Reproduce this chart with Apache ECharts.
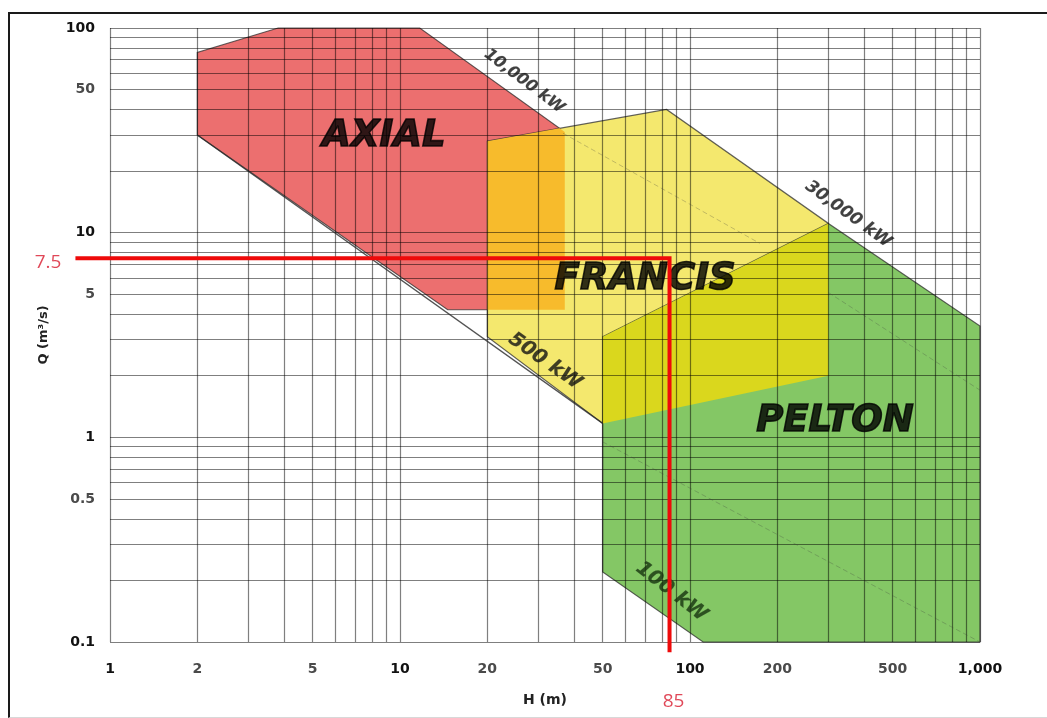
<!DOCTYPE html>
<html>
<head>
<meta charset="utf-8">
<script src="https://cdn.jsdelivr.net/npm/echarts@6/dist/echarts.min.js"></script>
<style>
html,body{margin:0;padding:0;background:#fff;}
#chart{position:absolute;left:0;top:0;width:1047px;height:718px;}
#frame{position:absolute;left:8px;top:12px;width:1100px;height:703px;border-top:2px solid #1a1a1a;border-left:2px solid #1a1a1a;border-bottom:1px solid #d8d8d8;pointer-events:none;}
</style>
</head>
<body>
<div id="chart"></div>
<div id="frame"></div>
<script>
// ---------- axis grid / tick values ----------
const hGridValues = [1,2,3,4,5,6,7,8,9,10,20,30,40,50,60,70,80,90,100,200,300,400,500,600,700,800,900,1000];
const qGridValues = [0.1,0.2,0.3,0.4,0.5,0.6,0.7,0.8,0.9,1,2,3,4,5,6,7,8,9,10,20,30,40,50,60,70,80,90,100];
const hTickLabels = [1,2,5,10,20,50,100,200,500,1000];
const qTickLabels = [0.1,0.5,1,5,10,50,100];

// ---------- turbine application ranges: [H (m), Q (m3/s)] vertices ----------
const axialRegion   = [[2,30],[14.6,4.2],[37,4.2],[37,31],[11.7,100],[3.8,100],[2,76]];
const francisRegion = [[20,28],[83,40],[300,11.1],[300,2],[50,1.17],[20,3.1]];
const peltonRegion  = [[50,3.1],[300,11.1],[1000,3.5],[1000,0.1],[111,0.1],[50,0.22]];
const axialFrancisOverlap   = [[20,28],[35.5,32.4],[37,31],[37,4.2],[20,4.2]];
const francisPeltonOverlap  = [[50,3.1],[300,11.1],[300,2],[50,1.17]];

// region names and label anchor points
const regionNames = ['AXIAL','FRANCIS','PELTON'];
const regionNameH = [8.8, 70, 316];
const regionNameQ = [29.7, 5.9, 1.2];

// iso-power lines and their labels
const line500kW = [[2,30],[50,1.17]];
const powerLabels = ['10,000 kW','30,000 kW','500 kW','100 kW'];
const powerLabelH = [26.8, 351, 31.6, 86.3];
const powerLabelQ = [54.9, 12.3, 2.35, 0.176];

// faint helper lines inside the regions
const faintLineA = [[36.5,30.6],[174,8.87]];
const faintLineB = [[300,5.1],[1000,1.7]];
const faintLineC = [[50,0.95],[1000,0.1]];

// selected operating point (red guides)
const selectedH = 85;
const selectedQ = 7.5;
const guideStartH = 0.76;   // horizontal guide extends left of the axis
const guideEndQ = 0.089;    // vertical guide extends below the axis

// ---------- build ----------
const regionPolygons = [axialRegion, francisRegion, peltonRegion, axialFrancisOverlap, francisPeltonOverlap];
const regionFill = ['#EC6F6F','#F4E86E','#84C765','#F7BB2C','#DAD71D'];
const regionStroke = [true, true, true, false, false];

function isPow10(v){ const l = Math.log10(v); return Math.abs(l - Math.round(l)) < 1e-9; }
function fmt(v){
  const s = v >= 1000 ? v.toLocaleString('en-US') : String(v);
  return isPow10(v) ? '{p|' + s + '}' : '{m|' + s + '}';
}
const labelRich = {
  p:{fontFamily:'DejaVu Sans',fontWeight:'bold',fontSize:14,color:'#111'},
  m:{fontFamily:'DejaVu Sans',fontWeight:'bold',fontSize:14,color:'#4a4a4a'}
};
const gridLineStyle = {color:'rgba(0,0,0,0.5)', width:1.2};

const chart = echarts.init(document.getElementById('chart'), null, {renderer:'canvas'});

const series = [];
series.push({
  type:'custom',
  coordinateSystem:'cartesian2d',
  silent:true,
  clip:false,
  z:1,
  data: regionPolygons.map(p => p[0]),
  renderItem: function(params, api){
    const i = params.dataIndex;
    const pts = regionPolygons[i].map(v => api.coord(v));
    return {
      type:'polygon',
      shape:{points:pts},
      style:{
        fill: regionFill[i],
        stroke: regionStroke[i] ? 'rgba(45,45,45,0.75)' : null,
        lineWidth: regionStroke[i] ? 1.2 : 0
      }
    };
  }
});
// 500 kW line
series.push({type:'line', data:line500kW, symbol:'none', silent:true, z:5,
  lineStyle:{color:'rgba(40,40,40,0.8)', width:1.3}});
// faint lines
[faintLineA, faintLineB, faintLineC].forEach(function(d){
  series.push({type:'line', data:d, symbol:'none', silent:true, z:4,
    lineStyle:{color:'rgba(60,60,60,0.28)', width:1, type:[5,3]}});
});
// region names
series.push({
  type:'scatter', symbolSize:0, silent:true, z:6, clip:false,
  data: regionNames.map((n,i) => ({value:[regionNameH[i], regionNameQ[i]], name:n})),
  label:{show:true, position:'inside', formatter:'{b}',
    fontFamily:'DejaVu Sans', fontWeight:'bold', fontStyle:'italic', fontSize:37,
    color:'#000', textBorderColor:'#000', textBorderWidth:1.6}
});
// power labels
const powerFont = [16, 17, 20, 20];
const powerColor = ['#111','#111','#111','#17330f'];
const powerRot = [-37, -36, -35, -38];
series.push({
  type:'scatter', symbolSize:0, silent:true, z:6, clip:false,
  data: powerLabels.map((n,i) => ({
    value:[powerLabelH[i], powerLabelQ[i]], name:n,
    label:{fontSize:powerFont[i], color:powerColor[i], rotate:powerRot[i]}
  })),
  label:{show:true, position:'inside', formatter:'{b}',
    fontFamily:'DejaVu Sans', fontWeight:'bold', fontStyle:'italic',
    textBorderColor:'rgba(0,0,0,0.3)', textBorderWidth:0.4}
});
// red guides (custom polyline so it can run outside the plot area)
const guidePoints = [[guideStartH, selectedQ],[selectedH, selectedQ],[selectedH, guideEndQ]];
series.push({
  type:'custom', coordinateSystem:'cartesian2d', silent:true, clip:false, z:8,
  data:[[selectedH, selectedQ]],
  renderItem: function(params, api){
    return {
      type:'polyline',
      shape:{points: guidePoints.map(v => api.coord(v))},
      style:{stroke:'#EE0A0A', lineWidth:4, fill:null, lineJoin:'miter', lineCap:'butt'}
    };
  }
});
series.push({
  type:'scatter', symbolSize:0, silent:true, z:9, clip:false,
  data:[
    {value:[guideStartH, selectedQ], name:String(selectedQ), label:{position:'left', distance:14, offset:[0,4]}},
    {value:[selectedH, guideEndQ], name:String(selectedH), label:{position:'bottom', distance:40, offset:[4,0]}}
  ],
  label:{show:true, formatter:'{b}', fontFamily:'Open Sans', fontSize:19, color:'#D81A2E'}
});

chart.setOption({
  animation:false,
  backgroundColor:'transparent',
  grid:{left:110, right:67, top:28, bottom:76, containLabel:false},
  xAxis:{
    type:'log', logBase:10, min:1, max:1000, z:3,
    name:'H (m)', nameLocation:'middle', nameGap:51,
    nameTextStyle:{fontFamily:'DejaVu Sans', fontWeight:'bold', fontSize:14, color:'#222'},
    axisLine:{show:false},
    axisTick:{show:false, customValues:hGridValues},
    axisLabel:{customValues:hTickLabels, margin:20, formatter:fmt, rich:labelRich},
    splitLine:{show:true, lineStyle:gridLineStyle}
  },
  yAxis:{
    type:'log', logBase:10, min:0.1, max:100, z:3,
    name:'Q (m³/s)', nameLocation:'middle', nameGap:60, nameRotate:90,
    nameTextStyle:{fontFamily:'DejaVu Sans', fontWeight:'bold', fontSize:13, color:'#222'},
    axisLine:{show:false},
    axisTick:{show:false, customValues:qGridValues},
    axisLabel:{customValues:qTickLabels, margin:15, formatter:fmt, rich:labelRich},
    splitLine:{show:true, lineStyle:gridLineStyle}
  },
  series:series
});
</script>
</body>
</html>
